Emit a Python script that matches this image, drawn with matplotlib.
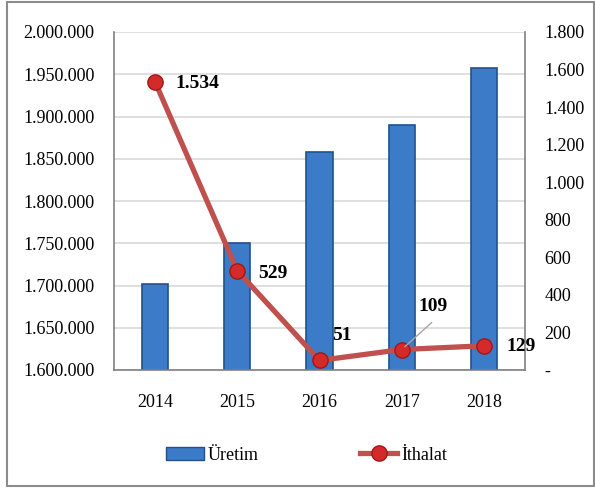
import matplotlib.pyplot as plt
from matplotlib.lines import Line2D
from matplotlib.patches import Patch, Rectangle
from matplotlib.ticker import FuncFormatter

plt.rcParams['font.family'] = ['Liberation Serif', 'DejaVu Serif']

years = ['2014', '2015', '2016', '2017', '2018']
uretim = [1702000, 1750000, 1858000, 1890000, 1957000]
ithalat = [1534, 529, 51, 109, 129]
ithalat_labels = ['1.534', '529', '51', '109', '129']


def dotted(v, pos=None):
    if v == 0:
        return '-'
    return f'{int(round(v)):,}'.replace(',', '.')


fig = plt.figure(figsize=(5.95, 4.88), dpi=100)
fig.patches.append(Rectangle((7 / 595, 2 / 488), 587 / 595, 484 / 488,
                             transform=fig.transFigure, fill=False,
                             edgecolor='#8c8c8c', linewidth=1.5))

ax = fig.add_axes([114 / 595, 1 - 370 / 488, 411 / 595, 338 / 488])
x = range(len(years))
ax.bar(x, uretim, width=0.32, color='#3b7bc8', edgecolor='#22508c',
       linewidth=1.2, zorder=2)
ax.set_ylim(1600000, 2000000)
ax.set_yticks(range(1600000, 2000001, 50000))
ax.yaxis.set_major_formatter(FuncFormatter(dotted))
ax.set_xlim(-0.5, 4.5)
ax.set_xticks(list(x), years)
ax.grid(axis='y', color='#d9d9d9', linewidth=1.2, zorder=0)
ax.tick_params(length=0, labelsize=13, pad=14)
ax.tick_params(axis='x', pad=17)
for s in ['left', 'bottom', 'right']:
    ax.spines[s].set_color('#808080')
    ax.spines[s].set_linewidth(1.2)
ax.spines['top'].set_visible(False)

ax2 = ax.twinx()
ax2.plot(x, ithalat, color='#c0504d', linewidth=3.8, marker='o',
         markersize=11, markerfacecolor='#d42a2a', markeredgecolor='#a01818',
         zorder=3, clip_on=False)
ax2.set_ylim(0, 1800)
ax2.set_yticks(range(0, 1801, 200))
ax2.yaxis.set_major_formatter(FuncFormatter(dotted))
ax2.tick_params(length=0, labelsize=13, pad=14)
for s in ['left', 'bottom', 'right', 'top']:
    ax2.spines[s].set_visible(False)

# label offsets in pixels (converted to points)
offsets = [(20, -2), (21, -3), (13, 25), (17, 43), (23, -1)]
for i, (v, lab) in enumerate(zip(ithalat, ithalat_labels)):
    dx, dy = offsets[i]
    ax2.annotate(lab, (i, v), xytext=(dx * 0.72, dy * 0.72),
                 textcoords='offset points', fontsize=14,
                 fontweight='bold', va='center', ha='left')
ax2.annotate('', (3, 109), xytext=(30 * 0.72, 27 * 0.72),
             textcoords='offset points',
             arrowprops=dict(arrowstyle='-', color='#a6a6a6', lw=1,
                             shrinkA=0, shrinkB=3))

handles = [Patch(facecolor='#3b7bc8', edgecolor='#22508c'),
           Line2D([], [], color='#c0504d', linewidth=3.8, marker='o',
                  markersize=11, markerfacecolor='#d42a2a',
                  markeredgecolor='#a01818')]
fig.legend(handles, ['Üretim', 'İthalat'], loc='center',
           bbox_to_anchor=(0.515, 1 - 455 / 488), ncol=2, frameon=False,
           fontsize=13, columnspacing=5.6, handlelength=2.1, handletextpad=0.2)

fig.savefig('out.png', dpi=100)
